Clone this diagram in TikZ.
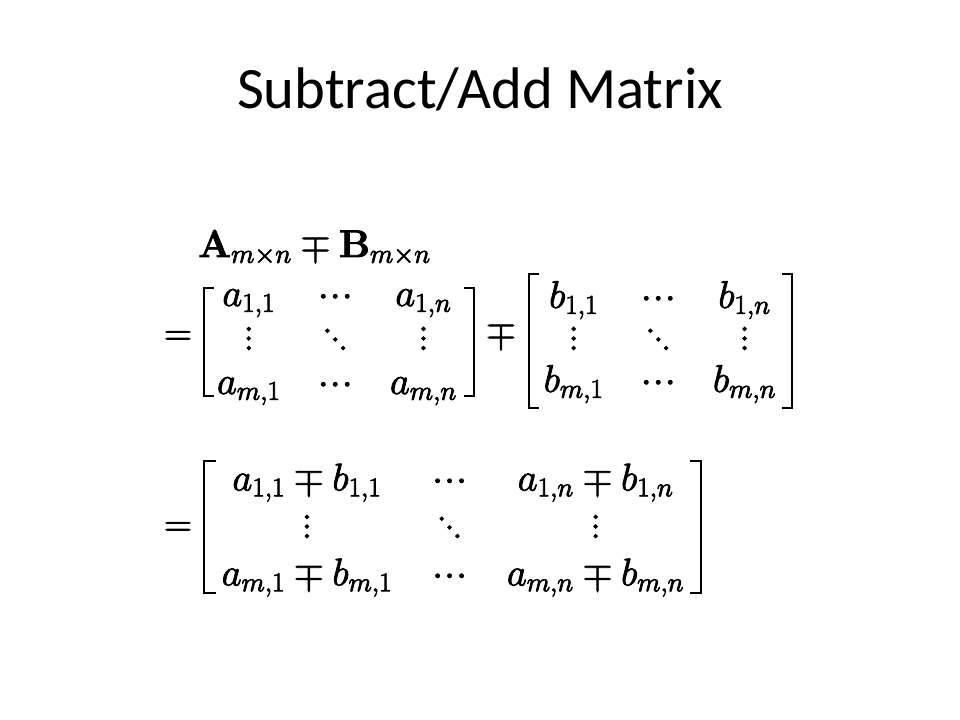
\RequirePackage{fix-cm}
\documentclass[tikz,border=0pt]{standalone}
\usepackage{amsmath}
\usepackage[no-math]{fontspec}
\setmainfont{Carlito}
\usetikzlibrary{matrix}

% dots with the spacing of the slide
\newcommand\vdotz{\vbox{\baselineskip7.2pt\lineskiplimit0pt\hbox{$.$}\hbox{$.$}\hbox{$.$}}}
\newcommand\ddotz{\mathinner{\raise13pt\hbox{$.$}\kern-2pt\raise6.5pt\hbox{$.$}\kern-2pt\hbox{$.$}}}
\newcommand\cdotz{\mathinner{\mathord{\cdotp}\mkern0.6mu\mathord{\cdotp}\mkern0.6mu\mathord{\cdotp}}}
% slightly heavier glyphs
\newcommand\heavy{\special{pdf:literal direct 2 Tr 0.6 w}}

\tikzset{
  slidetitle/.style={font=\fontsize{44}{53}\selectfont, anchor=base, inner sep=0pt},
  eqn/.style={font=\fontsize{29}{35}\selectfont\heavy, anchor=base, inner sep=0pt},
  mat/.style={matrix of math nodes, inner sep=0pt,
    nodes={font=\fontsize{29}{35}\selectfont\heavy, anchor=center, inner sep=0pt,
           text height=14pt, text depth=7pt}},
  brk/.style={line width=2pt}
}

\begin{document}
\begin{tikzpicture}[x=0.75pt,y=-0.75pt]
\useasboundingbox (0,0) rectangle (960,720);
\node[slidetitle] (ttl) at (480,109) {Subtract/Add Matrix};
%
\node[eqn,anchor=base west] (sumAB) at (198,257) {$\mathbf{A}_{m\times n}\mp\mathbf{B}_{m\times n}$};
%
\node[eqn] (eqA) at (178,345) {$=$};
\matrix (matA) [mat, column sep=28pt, row sep=12pt] at (337,345.3) {
  a_{1,1} & \cdotz & a_{1,n} \\
  \vdotz  & \ddotz & \vdotz  \\
  a_{m,1} & \cdotz & a_{m,n} \\
};
\draw[brk] (214,288) -- (204,288) -- (204,396) -- (214,396);
\draw[brk] (464,288) -- (474,288) -- (474,396) -- (464,396);
\node[eqn] (mpAB) at (501,344) {$\mp$};
\matrix (matB) [mat, column sep=28pt, row sep=10.5pt] at (660,345.3) {
  b_{1,1} & \cdotz & b_{1,n} \\
  \vdotz  & \ddotz & \vdotz  \\
  b_{m,1} & \cdotz & b_{m,n} \\
};
\draw[brk] (539,274) -- (529,274) -- (529,408) -- (539,408);
\draw[brk] (782,274) -- (792,274) -- (792,408) -- (782,408);
%
\node[eqn] (eqC) at (178,536) {$=$};
\matrix (matC) [mat, column sep=30pt, row sep=14.6pt] at (453,533.3) {
  a_{1,1}\mp b_{1,1} & \cdotz & a_{1,n}\mp b_{1,n} \\
  \vdotz             & \ddotz & \vdotz             \\
  a_{m,1}\mp b_{m,1} & \cdotz & a_{m,n}\mp b_{m,n} \\
};
\draw[brk] (216,461) -- (204,461) -- (204,593) -- (216,593);
\draw[brk] (690,461) -- (701,461) -- (701,593) -- (690,593);
\end{tikzpicture}
\end{document}
